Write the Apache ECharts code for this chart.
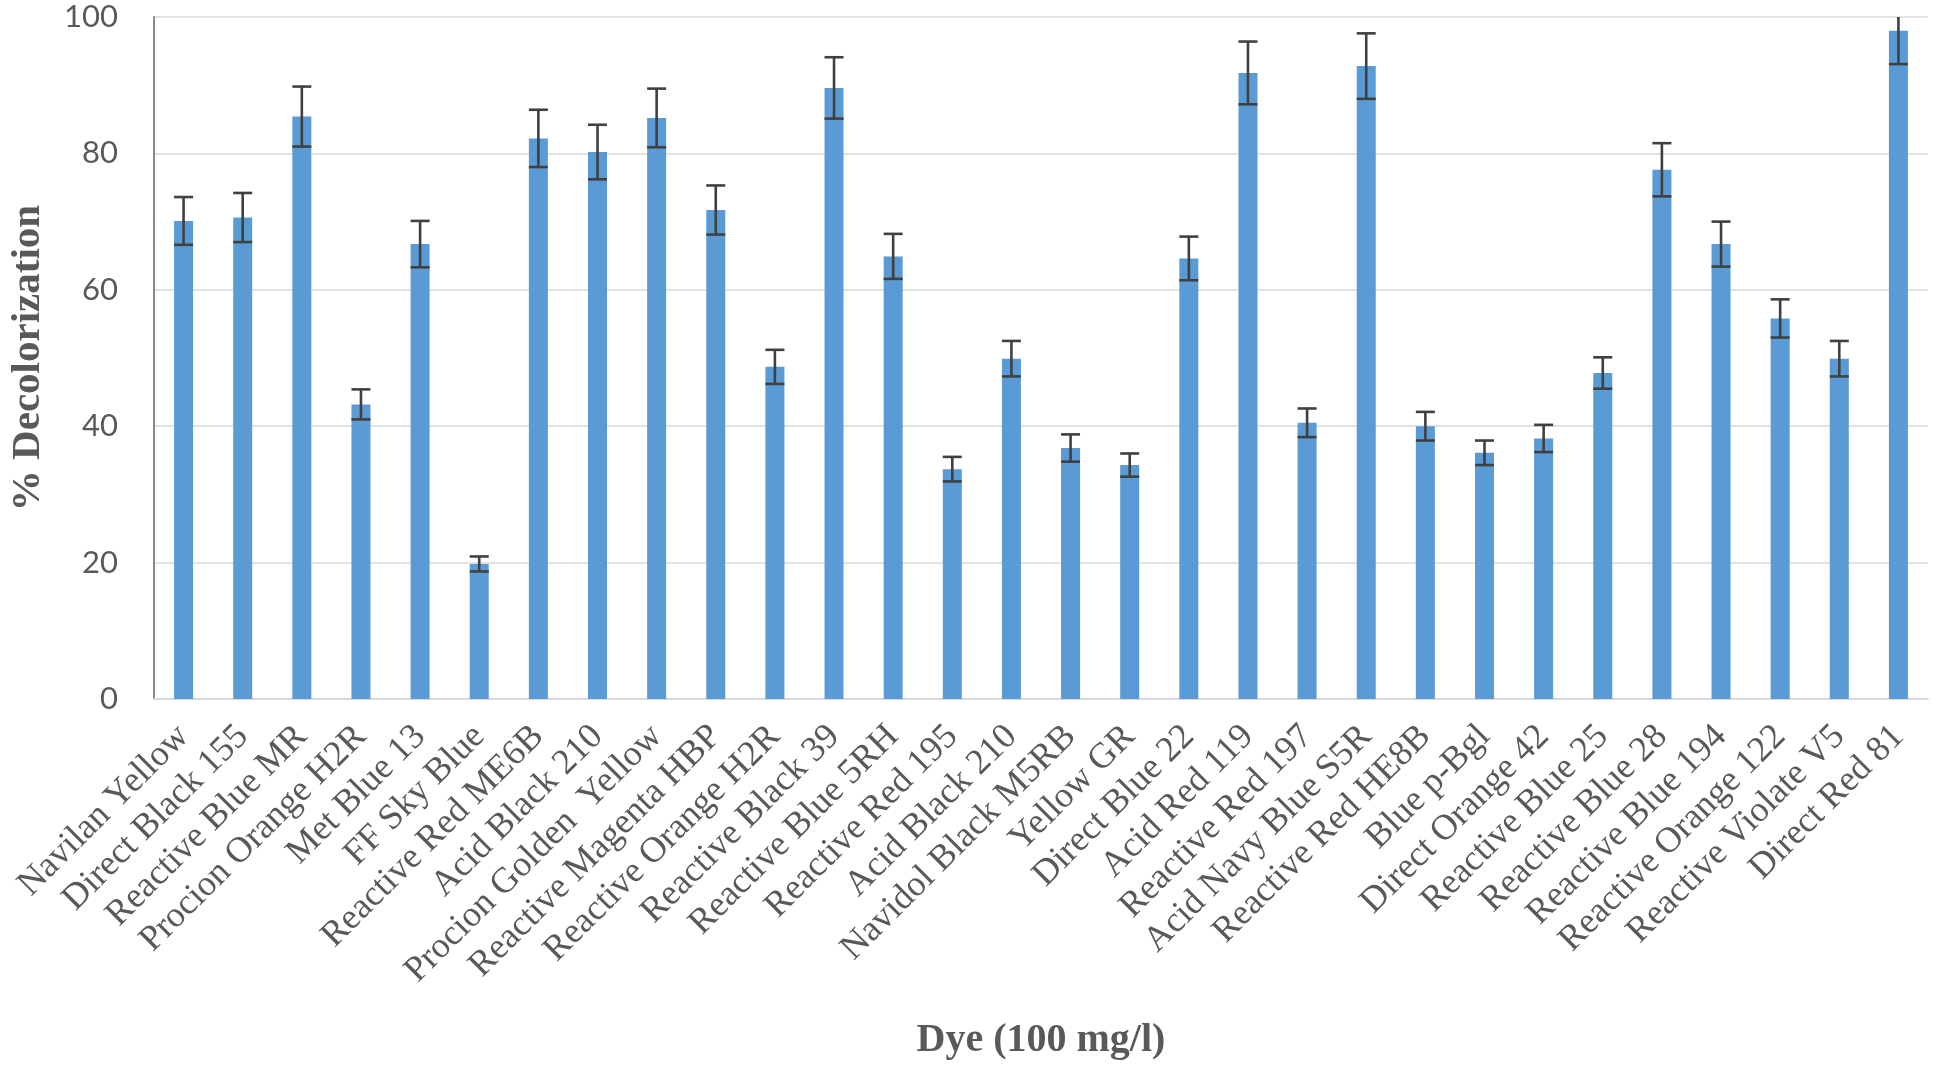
<!DOCTYPE html>
<html>
<head>
<meta charset="utf-8">
<title>% Decolorization by dye</title>
<script src="https://cdn.jsdelivr.net/npm/echarts@6/dist/echarts.min.js"></script>
<style>
  html, body { margin: 0; padding: 0; background: #fff; }
  #chart { width: 1933px; height: 1069px; }
</style>
</head>
<body>
<div id="chart"></div>
<script>
// dyes tested at 100 mg/l
const dyes = [
  'Navilan Yellow', 'Direct Black 155', 'Reactive Blue MR', 'Procion Orange H2R', 'Met Blue 13',
  'FF Sky Blue', 'Reactive Red ME6B', 'Acid Black 210', 'Procion Golden  Yellow', 'Reactive Magenta HBP',
  'Reactive Orange H2R', 'Reactive Black 39', 'Reactive Blue 5RH', 'Reactive Red 195', 'Acid Black 210',
  'Navidol Black M5RB', 'Yellow GR', 'Direct Blue 22', 'Acid Red 119', 'Reactive Red 197',
  'Acid Navy Blue S5R', 'Reactive Red HE8B', 'Blue p-Bgl', 'Direct Orange 42', 'Reactive Blue 25',
  'Reactive Blue 28', 'Reactive Blue 194', 'Reactive Orange 122', 'Reactive Violate V5', 'Direct Red 81'
];

// % decolorization (mean)
const decolor = [
  70.1, 70.6, 85.4, 43.2, 66.7,
  19.8, 82.2, 80.2, 85.2, 71.7,
  48.7, 89.6, 64.9, 33.7, 49.9,
  36.8, 34.3, 64.6, 91.8, 40.5,
  92.8, 40.0, 36.1, 38.2, 47.8,
  77.6, 66.7, 55.8, 49.9, 98.0
];

// error (+/-)
const errs = [
  3.5, 3.6, 4.4, 2.2, 3.4,
  1.1, 4.2, 4.0, 4.3, 3.6,
  2.5, 4.5, 3.3, 1.8, 2.6,
  2.0, 1.7, 3.2, 4.6, 2.1,
  4.8, 2.1, 1.8, 2.0, 2.3,
  3.9, 3.3, 2.8, 2.6, 4.9
];

const yTicks = { min: 0, max: 100, interval: 20 };

const TEXT = '#595959';
const BAR_W = 19;

const chart = echarts.init(document.getElementById('chart'), null, { renderer: 'canvas' });

// ── error bars ──
function renderErr(params, api) {
  const i = api.value(0);
  const lo = api.coord([i, api.value(1) - api.value(2)]);
  const hi = api.coord([i, api.value(1) + api.value(2)]);
  const half = BAR_W / 2;
  const style = { stroke: '#404040', lineWidth: 2.6 };
  return {
    type: 'group',
    children: [
      { type: 'line', shape: { x1: lo[0], y1: lo[1], x2: hi[0], y2: hi[1] }, style },
      { type: 'line', shape: { x1: hi[0] - half, y1: hi[1], x2: hi[0] + half, y2: hi[1] }, style },
      { type: 'line', shape: { x1: lo[0] - half, y1: lo[1], x2: lo[0] + half, y2: lo[1] }, style },
    ],
  };
}

chart.setOption({
  animation: false,
  backgroundColor: '#fff',
  grid: { left: 152, right: 5, top: 17, bottom: 370 },
  xAxis: {
    type: 'category',
    data: dyes,
    name: 'Dye (100 mg/l)',
    nameLocation: 'middle',
    nameGap: 322,
    nameTextStyle: { fontFamily: 'Liberation Serif', fontWeight: 'bold', fontSize: 40, color: TEXT },
    axisLine: { lineStyle: { color: '#d9d9d9', width: 2 } },
    axisTick: { show: false },
    axisLabel: {
      interval: 0, rotate: 45, margin: 32,
      fontFamily: 'Liberation Serif', fontSize: 36, color: TEXT,
    },
  },
  yAxis: {
    type: 'value',
    min: yTicks.min, max: yTicks.max, interval: yTicks.interval,
    name: '% Decolorization',
    nameLocation: 'middle',
    nameGap: 105,
    nameTextStyle: { fontFamily: 'Liberation Serif', fontWeight: 'bold', fontSize: 41, color: TEXT },
    axisLine: { show: true, lineStyle: { color: '#8a8a8a', width: 2 } },
    axisTick: { show: false },
    axisLabel: { margin: 36, fontFamily: 'Lato', fontSize: 31, color: TEXT },
    splitLine: { lineStyle: { color: '#d9d9d9', width: 1.6 } },
  },
  series: [
    {
      type: 'bar',
      data: decolor,
      barWidth: BAR_W,
      itemStyle: { color: '#5b9bd5' },
    },
    {
      type: 'custom',
      renderItem: renderErr,
      clip: true,
      data: decolor.map((v, i) => [i, v, errs[i]]),
      z: 10,
    },
  ],
});
</script>
</body>
</html>
